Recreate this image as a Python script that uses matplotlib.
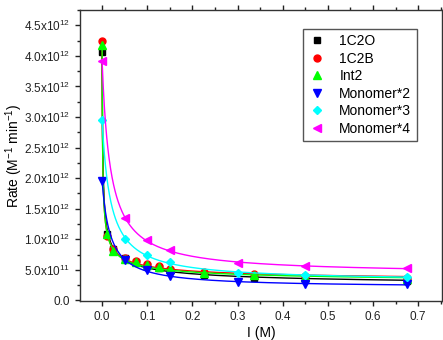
import matplotlib.pyplot as plt
import numpy as np
from matplotlib.ticker import MultipleLocator, FuncFormatter

plt.rcParams['font.family'] = 'Liberation Sans'
plt.rcParams['mathtext.default'] = 'regular'
plt.rcParams['axes.unicode_minus'] = False

# ionic strength (M)
x_full = [0, 0.01, 0.025, 0.05, 0.075, 0.1, 0.125, 0.15, 0.225, 0.3375, 0.45, 0.675]
x_mono = [0, 0.05, 0.1, 0.15, 0.3, 0.45, 0.675]

# rates in units of 1e12 M^-1 min^-1
rate_1c2o = [4.06, 1.09, 0.84, 0.69, 0.63, 0.57, 0.53, 0.50, 0.41, 0.37, 0.34, 0.32]
rate_1c2b = [4.25, 1.05, 0.84, 0.70, 0.65, 0.60, 0.56, 0.52, 0.46, 0.43, 0.40, 0.37]
rate_int2 = [4.17, 1.08, 0.80, 0.67, 0.62, 0.58, 0.54, 0.51, 0.45, 0.42, 0.38, 0.355]
rate_mono2 = [1.95, 0.66, 0.49, 0.40, 0.30, 0.27, 0.26]
rate_mono3 = [2.95, 1.01, 0.75, 0.62, 0.45, 0.41, 0.39]
rate_mono4 = [3.92, 1.35, 0.98, 0.82, 0.61, 0.56, 0.53]

series = [
    ('1C2O', x_full, rate_1c2o, 'k', 's', 4.5),
    ('1C2B', x_full, rate_1c2b, 'r', 'o', 5),
    ('Int2', x_full, rate_int2, '#00ff00', '^', 5.5),
    ('Monomer*2', x_mono, rate_mono2, 'b', 'v', 5.5),
    ('Monomer*3', x_mono, rate_mono3, '#00ffff', 'D', 4.5),
    ('Monomer*4', x_mono, rate_mono4, '#ff00ff', '<', 5.5),
]


def fit_curve(x, y):
    # y = a + b / (1 + c*x)^p, grid over c and p, weighted lsq for a, b
    x = np.asarray(x)
    y = np.asarray(y)
    w = 1.0 / y
    best = None
    for p in (0.5, 0.75, 1.0, 1.5, 2.0):
        for c in np.logspace(0, 4, 400):
            A = np.column_stack([np.ones_like(x), 1.0 / (1 + c * x) ** p])
            coef, *_ = np.linalg.lstsq(A * w[:, None], y * w, rcond=None)
            err = np.sum(((A @ coef - y) * w) ** 2)
            if best is None or err < best[0]:
                best = (err, coef, c, p)
    _, (a, b), c, p = best
    xs = np.linspace(0, x.max(), 800)
    return xs, a + b / (1 + c * xs) ** p


fig = plt.figure(figsize=(4.43, 3.4), dpi=100)
ax = fig.add_axes([80 / 443, 39 / 340, 362 / 443, 291 / 340])

for name, xv, yv, col, mk, ms in series:
    xs, ys = fit_curve(xv, yv)
    ax.plot(xs, ys * 1e12, color=col, lw=1)
    ax.plot(xv, np.array(yv) * 1e12, ls='none', marker=mk, color=col,
            markersize=ms, label=name)

ax.set_xlim(-0.049, 0.753)
ax.set_ylim(-0.01e12, 4.75e12)
ax.xaxis.set_major_locator(MultipleLocator(0.1))
ax.xaxis.set_minor_locator(MultipleLocator(0.05))
ax.yaxis.set_major_locator(MultipleLocator(0.5e12))
ax.yaxis.set_minor_locator(MultipleLocator(0.25e12))


def yfmt(v, pos):
    if abs(v) < 1:
        return '0.0'
    e = int(np.floor(np.log10(abs(v)) + 1e-9))
    m = v / 10 ** e
    return '%.1fx10$^{%d}$' % (m, e)


ax.yaxis.set_major_formatter(FuncFormatter(yfmt))
ax.xaxis.set_major_formatter(FuncFormatter(lambda v, p: '%.1f' % v))
ax.tick_params(which='both', direction='out', top=True, right=True,
               labelsize=8.5, width=1, colors='#222222')
ax.tick_params(which='major', length=3.5)
ax.tick_params(which='minor', length=2)
for s in ax.spines.values():
    s.set_linewidth(1)
    s.set_color('#333333')

ax.set_xlabel('I (M)', fontsize=10, labelpad=2)
ax.set_ylabel('Rate (M$^{-1}$ min$^{-1}$)', fontsize=10)
ax.yaxis.set_label_coords(-0.152, 0.5)

leg = ax.legend(loc='upper right', bbox_to_anchor=(0.95, 0.96), fontsize=10,
                fancybox=False, framealpha=1, edgecolor='#555555',
                handlelength=1.2, handletextpad=1.0, labelspacing=0.25,
                borderpad=0.4)
leg.get_frame().set_linewidth(1)

fig.savefig('out.png', dpi=100)
